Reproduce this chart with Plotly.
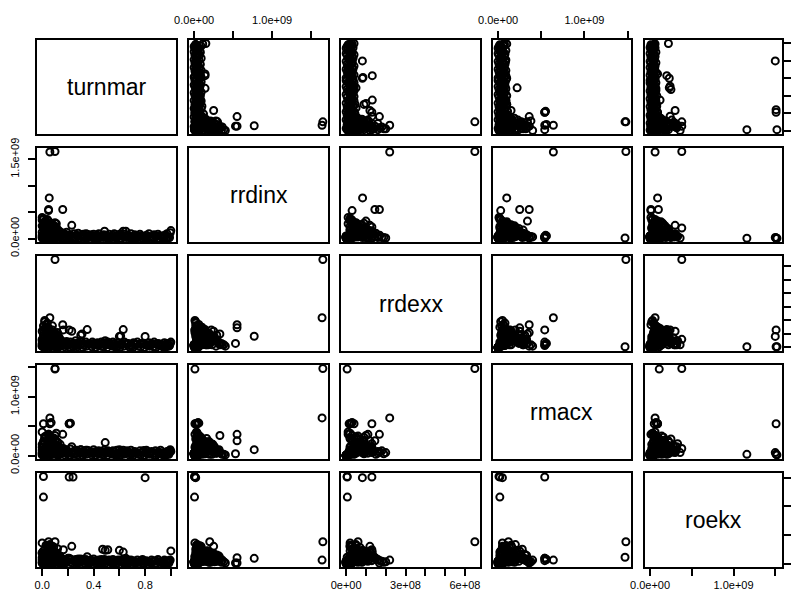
import plotly.graph_objects as go

names = ["turnmar", "rrdinx", "rrdexx", "rmacx", "roekx"]

# one entry per observation (outliers, low-turnmar cluster, spread cluster, extra cluster rows)
turnmar = [
    0.10, 0.06, 0.10, 0.055, 0.05, 0.16, 0.05, 0.21, 0.24, 0.80, 0.01, 0.01, 1.00, 0.23, 0.21,
    0.22, 0.06, 0.07, 0.01, 0.49, 0.51, 0.63, 0.60, 0.61, 0.35, 0.30, 0.31, 0.165, 0.05, 0.65,
    0.485, 0.93, 0.70, 0.05, 0.03, 0.79, 0.99, 0.47, 0.02, 0.04, 0.05, 0.08,
    0.00, 0.01, 0.02, 0.03, 0.04, 0.05, 0.06, 0.07, 0.08, 0.09, 0.10, 0.11,
    0.00, 0.01, 0.02, 0.03, 0.04, 0.05, 0.06, 0.07, 0.08, 0.09, 0.10, 0.11, 0.12,
    0.00, 0.01, 0.02, 0.03, 0.04, 0.05, 0.06, 0.07, 0.08, 0.09, 0.10, 0.11, 0.12, 0.13, 0.14,
    0.00, 0.01, 0.02, 0.03, 0.04,
    0.12, 0.14, 0.15, 0.17, 0.18, 0.19, 0.20, 0.22, 0.25, 0.26,
    0.27, 0.28, 0.30, 0.32, 0.33, 0.34, 0.36, 0.38, 0.39, 0.40,
    0.42, 0.43, 0.44, 0.46, 0.48, 0.50, 0.52, 0.53, 0.55, 0.56,
    0.58, 0.59, 0.62, 0.64, 0.66, 0.67, 0.69, 0.71, 0.72, 0.74,
    0.76, 0.78, 0.81, 0.83, 0.85, 0.87, 0.88, 0.90, 0.92, 0.95,
    0.97, 0.98,
    0.00, 0.01, 0.02, 0.03, 0.04, 0.05, 0.06, 0.07, 0.08, 0.09, 0.10, 0.11, 0.12, 0.13, 0.14, 0.15,
    0.00, 0.01, 0.02, 0.03, 0.04, 0.05, 0.06, 0.07, 0.08, 0.09, 0.10, 0.11, 0.12, 0.13,
    0.02, 0.03, 0.04, 0.05, 0.06, 0.07, 0.08, 0.09, 0.01, 0.00,
    0.005, 0.025, 0.045, 0.065, 0.085, 0.105, 0.125, 0.135, 0.155, 0.175,
    0.195, 0.215, 0.235, 0.255, 0.275, 0.295, 0.315, 0.325, 0.345, 0.365,
    0.385, 0.405, 0.415, 0.435, 0.455, 0.475, 0.495, 0.505, 0.525, 0.545,
    0.565, 0.585, 0.605, 0.615, 0.635, 0.655, 0.675, 0.685, 0.705, 0.725,
    0.745, 0.765, 0.775, 0.795, 0.815, 0.835, 0.845, 0.865, 0.885, 0.905,
    0.915, 0.935, 0.945, 0.955, 0.965, 0.975, 0.985, 0.995, 0.575, 0.445,
]
rrdinx_1e8 = [
    16.5, 16.4, 0.10, 7.7, 5.5, 5.5, 5.3, 0.1, 0.1, 0.2, 0.05, 0.05, 1.5, 2.5, 0.4,
    0.6, 0.2, 0.5, 0.3, 0.5, 0.3, 1.4, 0.6, 0.9, 0.8, 0.5, 0.7, 1.0, 3.3, 1.4,
    1.4, 0.3, 0.2, 2.0, 0.3, 0.4, 0.2, 0.4, 0.1, 0.2, 0.4, 0.8,
    3.5, 3.0, 2.6, 2.2, 2.0, 1.8, 1.5, 1.2, 1.0, 0.8, 0.6, 0.4,
    0.3, 0.5, 0.9, 1.3, 1.7, 0.7, 0.4, 0.2, 0.9, 1.4, 2.3, 2.8, 1.1,
    4.0, 3.8, 0.2, 0.6, 1.0, 0.1, 0.3, 0.6, 1.9, 2.5, 3.0, 0.2, 0.5, 0.8, 1.2,
    0.1, 2.2, 1.6, 0.4, 2.9,
    0.9, 0.6, 1.1, 0.4, 0.8, 1.2, 0.5, 0.7, 0.9, 0.3,
    0.6, 1.0, 0.4, 0.8, 0.5, 0.9, 0.3, 0.7, 0.5, 0.8,
    0.4, 0.6, 0.9, 0.3, 0.7, 0.5, 0.8, 0.4, 0.6, 0.9,
    0.3, 0.7, 0.5, 0.8, 0.4, 0.6, 0.9, 0.3, 0.7, 0.5,
    0.8, 0.4, 0.6, 0.9, 0.3, 0.7, 0.5, 0.8, 0.4, 0.6,
    0.9, 0.3,
    2.4, 1.9, 3.2, 2.7, 1.4, 0.9, 2.1, 1.6, 0.5, 1.1, 1.8, 1.3, 0.7, 1.5, 0.3, 0.9,
    1.2, 2.6, 0.8, 3.3, 0.5, 2.4, 1.0, 2.0, 0.2, 1.7, 0.4, 2.1, 0.6, 1.0,
    1.5, 0.1, 3.6, 0.4, 0.7, 2.9, 1.4, 0.3, 1.8, 0.6,
    0.1, 0.3, 0.0, 0.2, 0.5, 0.1, 0.4, 0.2, 0.0, 0.3,
    0.1, 0.5, 0.2, 0.0, 0.4, 0.1, 0.3, 0.2, 0.0, 0.5,
    0.2, 0.1, 0.4, 0.0, 0.3, 0.2, 0.5, 0.1, 0.0, 0.4,
    0.2, 0.3, 0.1, 0.0, 0.5, 0.2, 0.4, 0.1, 0.3, 0.0,
    0.2, 0.5, 0.1, 0.3, 0.0, 0.4, 0.2, 0.1, 0.3, 0.0,
    0.5, 0.2, 0.1, 0.4, 0.0, 0.3, 0.2, 1.1, 0.1, 0.3,
]
rrdexx_1e8 = [
    6.50, 2.20, 0.05, 0.83, 1.45, 1.68, 0.30, 1.30, 0.05, 0.82, 0.05, 0.06, 0.40, 1.20, 0.20,
    0.25, 0.15, 0.30, 0.40, 0.50, 0.40, 1.32, 0.82, 0.85, 1.32, 0.90, 1.00, 1.30, 1.00, 0.30,
    0.35, 0.20, 0.10, 0.60, 0.20, 0.30, 0.15, 0.30, 2.00, 1.80, 1.30, 1.30,
    0.3, 0.5, 0.8, 0.4, 1.0, 0.6, 1.2, 0.7, 0.9, 0.5, 0.3, 0.2,
    0.1, 1.6, 1.4, 1.1, 0.9, 0.7, 0.5, 0.3, 0.2, 0.4, 0.2, 0.1, 0.6,
    0.1, 0.2, 1.9, 1.7, 1.5, 1.1, 0.9, 1.2, 0.8, 0.6, 0.4, 1.0, 0.5, 0.4, 0.3,
    0.2, 1.3, 0.2, 0.6, 0.9,
    0.4, 0.3, 0.5, 0.2, 0.35, 0.45, 0.25, 0.4, 0.3, 0.5,
    0.2, 0.35, 0.45, 0.3, 0.2, 0.4, 0.3, 0.25, 0.4, 0.3,
    0.2, 0.35, 0.25, 0.4, 0.3, 0.2, 0.35, 0.25, 0.4, 0.3,
    0.2, 0.35, 0.3, 0.4, 0.25, 0.3, 0.2, 0.35, 0.3, 0.4,
    0.25, 0.3, 0.2, 0.35, 0.3, 0.4, 0.25, 0.3, 0.2, 0.35,
    0.3, 0.25,
    0.5, 0.9, 0.3, 0.5, 1.2, 0.4, 0.7, 1.0, 0.8, 0.8, 0.5, 0.9, 0.7, 0.2, 0.6, 0.4,
    1.2, 0.7, 0.5, 0.2, 0.3, 0.6, 0.2, 0.4, 1.6, 0.9, 0.6, 0.6, 1.1, 0.8,
    0.4, 1.3, 0.2, 0.1, 0.5, 0.5, 0.3, 0.2, 0.2, 0.6,
    0.1, 0.0, 0.2, 0.05, 0.15, 0.25, 0.0, 0.1, 0.2, 0.05,
    0.15, 0.0, 0.25, 0.1, 0.05, 0.2, 0.0, 0.15, 0.1, 0.25,
    0.05, 0.2, 0.0, 0.15, 0.1, 0.05, 0.25, 0.0, 0.2, 0.1,
    0.15, 0.05, 0.0, 0.2, 0.1, 0.25, 0.05, 0.15, 0.0, 0.2,
    0.1, 0.05, 0.25, 0.0, 0.15, 0.1, 0.2, 0.05, 0.0, 0.15,
    0.25, 0.1, 0.0, 0.2, 0.05, 0.15, 0.1, 0.3, 0.0, 0.2,
]
rmacx_1e8 = [
    14.8, 6.4, 14.7, 1.0, 2.5, 3.6, 0.3, 5.4, 0.2, 0.5, 0.1, 0.2, 0.7, 1.5, 5.4,
    5.5, 5.4, 5.6, 5.4, 2.2, 0.8, 0.9, 1.0, 0.7, 0.9, 1.0, 0.6, 1.2, 3.4, 0.4,
    0.5, 0.4, 0.3, 1.2, 1.5, 0.85, 0.73, 0.6, 0.5, 0.8, 1.0, 0.5,
    0.3, 0.6, 0.9, 1.3, 1.0, 1.8, 1.5, 2.2, 2.6, 3.0, 3.4, 3.8,
    4.0, 0.4, 0.7, 1.2, 0.8, 1.6, 2.0, 2.8, 0.5, 0.3, 0.2, 0.4, 1.1,
    0.1, 0.2, 0.3, 0.6, 0.2, 3.6, 3.1, 2.5, 1.9, 1.4, 0.9, 1.7, 0.6, 0.9, 0.5,
    0.5, 2.0, 2.9, 3.3, 0.4,
    0.8, 1.1, 0.7, 0.9, 0.5, 1.0, 0.6, 1.1, 0.8, 0.4,
    0.9, 0.6, 1.0, 0.7, 0.5, 0.9, 0.8, 0.4, 0.6, 1.0,
    0.7, 0.5, 0.8, 0.6, 0.9, 0.4, 0.7, 0.5, 0.8, 0.6,
    0.9, 0.4, 0.7, 0.5, 0.8, 0.6, 0.9, 0.5, 0.7, 0.4,
    0.8, 0.6, 0.9, 0.5, 0.7, 0.4, 0.8, 0.6, 0.9, 0.5,
    0.7, 0.6,
    1.9, 2.4, 1.0, 0.7, 1.4, 2.9, 2.0, 1.1, 1.2, 2.1, 1.6, 0.3, 2.3, 1.3, 1.9, 0.8,
    0.9, 1.5, 3.2, 0.5, 0.9, 0.6, 2.9, 0.2, 0.7, 0.9, 2.7, 1.2, 0.4, 1.6,
    2.2, 1.4, 0.2, 3.6, 0.9, 0.8, 2.4, 0.6, 0.3, 1.4,
    0.2, 0.0, 0.4, 0.1, 0.3, 0.5, 0.0, 0.2, 0.4, 0.1,
    0.3, 0.0, 0.5, 0.2, 0.1, 0.4, 0.0, 0.3, 0.2, 0.5,
    0.1, 0.4, 0.0, 0.3, 0.2, 0.1, 0.5, 0.0, 0.4, 0.2,
    0.3, 0.1, 0.0, 0.4, 0.2, 0.5, 0.1, 0.3, 0.0, 0.4,
    0.2, 0.1, 0.5, 0.0, 0.3, 0.2, 0.4, 0.1, 0.0, 0.3,
    0.5, 0.2, 0.0, 0.4, 0.1, 0.3, 0.2, 1.0, 0.0, 0.4,
]
roekx_1e8 = [
    3.8, 0.6, 1.1, 0.9, 1.0, 0.1, 0.1, 15.1, 15.1, 15.0, 15.2, 11.6, 2.2, 3.0, 0.9,
    0.8, 0.9, 0.7, 0.5, 2.3, 2.4, 2.0, 2.3, 0.6, 1.2, 0.8, 0.5, 2.4, 0.7, 0.9,
    0.7, 0.3, 0.2, 3.8, 3.2, 0.4, 0.5, 2.5, 0.3, 0.4, 0.6, 0.5,
    0.2, 0.4, 0.3, 0.6, 1.0, 0.5, 1.3, 0.8, 1.6, 0.9, 0.4, 0.3,
    0.6, 0.7, 1.2, 1.8, 2.2, 2.8, 3.3, 2.5, 3.0, 2.0, 1.4, 0.8, 0.7,
    0.1, 0.3, 0.2, 0.5, 0.9, 0.4, 1.6, 2.2, 0.2, 0.5, 0.9, 1.9, 2.6, 1.1, 0.6,
    3.6, 1.1, 0.7, 1.4, 1.5,
    0.6, 0.5, 0.8, 0.3, 0.7, 0.4, 0.9, 0.6, 0.5, 0.7,
    0.3, 0.8, 0.4, 0.6, 0.5, 0.7, 0.3, 0.6, 0.4, 0.8,
    0.5, 0.3, 0.6, 0.7, 0.4, 0.5, 0.6, 0.3, 0.7, 0.4,
    0.5, 0.6, 0.3, 0.5, 0.7, 0.4, 0.6, 0.5, 0.3, 0.6,
    0.4, 0.7, 0.5, 0.3, 0.6, 0.4, 0.5, 0.7, 0.3, 0.6,
    0.4, 0.5,
    1.8, 0.9, 1.3, 0.4, 0.8, 1.0, 0.6, 1.9, 2.0, 1.2, 0.3, 1.7, 0.9, 0.5, 1.3, 0.9,
    1.9, 1.6, 0.5, 0.9, 3.1, 1.6, 1.0, 2.0, 0.6, 0.6, 1.2, 0.2, 1.5, 0.8,
    1.8, 1.3, 0.6, 0.3, 3.1, 1.1, 0.4, 2.9, 2.2, 1.0,
    0.0, 0.2, 0.1, 0.3, 0.0, 0.4, 0.2, 0.1, 0.3, 0.0,
    0.4, 0.2, 0.1, 0.3, 0.0, 0.2, 0.4, 0.1, 0.3, 0.0,
    0.2, 0.4, 0.1, 0.3, 0.0, 0.2, 0.1, 0.4, 0.3, 0.0,
    0.2, 0.1, 0.4, 0.3, 0.0, 0.2, 0.1, 0.4, 0.3, 0.0,
    0.2, 0.4, 0.1, 0.0, 0.3, 0.2, 0.1, 0.4, 0.0, 0.3,
    0.2, 0.1, 0.4, 0.0, 0.3, 0.2, 0.1, 0.6, 0.0, 0.2,
]

rrdinx = [v * 1e8 for v in rrdinx_1e8]
rrdexx = [v * 1e8 for v in rrdexx_1e8]
rmacx = [v * 1e8 for v in rmacx_1e8]
roekx = [v * 1e8 for v in roekx_1e8]
data = [turnmar, rrdinx, rrdexx, rmacx, roekx]

tick_vals = [
    [0, 0.2, 0.4, 0.6, 0.8, 1.0],
    [0, 5e8, 1e9, 1.5e9],
    [0, 1e8, 2e8, 3e8, 4e8, 5e8, 6e8],
    [0, 5e8, 1e9, 1.5e9],
    [0, 5e8, 1e9, 1.5e9],
]
x_tick_text = [
    ["0.0", "", "0.4", "", "0.8", ""],
    ["0.0e+00", "", "1.0e+09", ""],
    ["0e+00", "", "", "3e+08", "", "", "6e+08"],
    ["0.0e+00", "", "1.0e+09", ""],
    ["0.0e+00", "", "1.0e+09", ""],
]
y_tick_text = {
    1: ["0.0e+00", "", "", "1.5e+09"],
    3: ["0.0e+00", "", "1.0e+09", ""],
}

col_px = [(37, 176), (189, 328), (341, 480), (493, 631), (645, 782)]
row_px = [(40, 134), (148, 242), (256, 351), (365, 459), (473, 567)]
W, H = 800, 594

ranges = []
for v in data:
    lo, hi = min(v), max(v)
    pad = 0.04 * (hi - lo)
    ranges.append([lo - pad, hi + pad])

font = dict(family="Liberation Sans, Arial, sans-serif", size=11, color="black")
fig = go.Figure()
layout = dict(width=W, height=H, margin=dict(l=0, r=0, t=0, b=0, autoexpand=False),
              paper_bgcolor="white", plot_bgcolor="white", showlegend=False,
              annotations=[])

for i in range(5):
    for j in range(5):
        k = i * 5 + j + 1
        xs = "" if k == 1 else str(k)
        xd = [col_px[j][0] / W, col_px[j][1] / W]
        yd = [1 - row_px[i][1] / H, 1 - row_px[i][0] / H]
        base = dict(showgrid=False, zeroline=False, showline=True, mirror=True,
                    linecolor="black", linewidth=2, tickfont=font, automargin=False,
                    ticklen=7, tickwidth=1.5, tickcolor="black")
        xa = dict(base, domain=xd, anchor="y" + xs, range=ranges[j],
                  tickvals=tick_vals[j], ticktext=x_tick_text[j])
        ya = dict(base, domain=yd, anchor="x" + xs, range=ranges[i],
                  tickvals=tick_vals[i])
        if i == 0 and j in (1, 3):
            xa.update(side="top", ticks="outside", showticklabels=True, ticklabelstandoff=3)
        elif i == 4 and j in (0, 2, 4):
            xa.update(side="bottom", ticks="outside", showticklabels=True, ticklabelstandoff=0)
        else:
            xa.update(ticks="", showticklabels=False)
        if j == 0 and i in (1, 3):
            ya.update(side="left", ticks="outside", showticklabels=True,
                      ticktext=y_tick_text[i], tickangle=-90, ticklabelstandoff=5)
        elif j == 4 and i in (0, 2, 4):
            ya.update(side="right", ticks="outside", showticklabels=False)
        else:
            ya.update(ticks="", showticklabels=False)
        layout["xaxis" + xs] = xa
        layout["yaxis" + xs] = ya
        if i == j:
            layout["annotations"].append(dict(
                text=names[i], xref="paper", yref="paper",
                x=sum(xd) / 2, y=sum(yd) / 2, showarrow=False,
                xanchor="center", yanchor="middle",
                font=dict(family="Liberation Sans, Arial, sans-serif", size=23, color="black")))
            fig.add_trace(go.Scatter(x=[], y=[], mode="markers",
                                     xaxis="x" + xs, yaxis="y" + xs, hoverinfo="skip"))
        else:
            fig.add_trace(go.Scatter(
                x=data[j], y=data[i], mode="markers", xaxis="x" + xs, yaxis="y" + xs,
                marker=dict(symbol="circle-open", size=7, color="black",
                            line=dict(width=2, color="black")),
                hoverinfo="skip"))

fig.update_layout(**layout)
fig.write_html("out.html")
